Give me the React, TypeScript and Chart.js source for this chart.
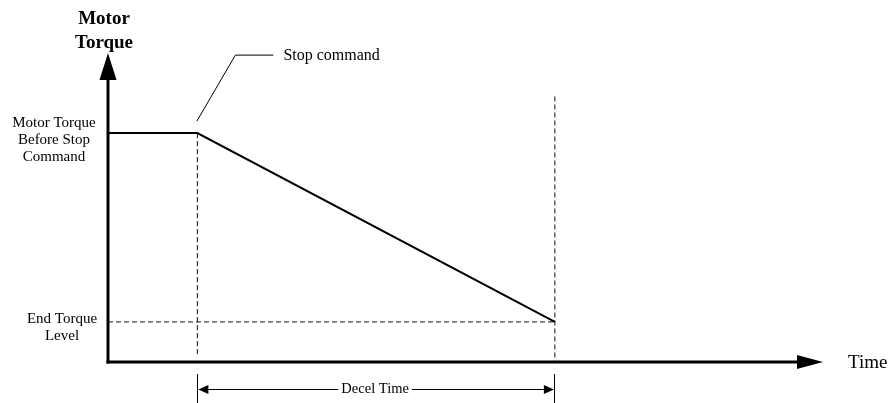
import React, { useEffect, useRef } from "react";
import { Chart, registerables } from "chart.js";

Chart.register(...registerables);

// ---- data ----
const profileTime = [0, 2, 10];
const profileTorque = [100, 100, 17.5];
const stopTime = 2;
const decelEndTime = 10;
const startTorque = 100;
const endTorque = 17.5;
const timeAxisMax = 16;
const torqueAxisMax = 135;
const decelMarkerTop = 116;
const stopMarkerBottom = 3;
const yTitleLines = ["Motor", "Torque"];
const startLabelLines = ["Motor Torque", "Before Stop", "Command"];
const endLabelLines = ["End Torque", "Level"];
const stopLabel = "Stop command";
const decelLabel = "Decel Time";
const xTitle = "Time";

const FONT = '"Liberation Serif", "Times New Roman", serif';
const INK = "#000000";

const diagramPlugin = {
  id: "diagram",
  beforeDatasetsDraw(chart: any) {
    const { ctx, scales } = chart;
    const xs = scales.x;
    const ys = scales.y;
    const x0 = xs.getPixelForValue(0);
    const y0 = ys.getPixelForValue(0);
    const xTip = xs.getPixelForValue(timeAxisMax);
    const yTip = ys.getPixelForValue(torqueAxisMax);
    ctx.save();
    ctx.strokeStyle = INK;
    ctx.fillStyle = INK;
    ctx.lineWidth = 3;
    ctx.lineCap = "butt";
    // y axis
    ctx.beginPath();
    ctx.moveTo(x0, y0 + 1.5);
    ctx.lineTo(x0, yTip + 26);
    ctx.stroke();
    ctx.beginPath();
    ctx.moveTo(x0, yTip);
    ctx.lineTo(x0 - 8.5, yTip + 27);
    ctx.lineTo(x0 + 8.5, yTip + 27);
    ctx.closePath();
    ctx.fill();
    // x axis
    ctx.beginPath();
    ctx.moveTo(x0 - 1.5, y0);
    ctx.lineTo(xTip - 25, y0);
    ctx.stroke();
    ctx.beginPath();
    ctx.moveTo(xTip, y0);
    ctx.lineTo(xTip - 26, y0 - 7);
    ctx.lineTo(xTip - 26, y0 + 7);
    ctx.closePath();
    ctx.fill();
    ctx.restore();
  },
  afterDatasetsDraw(chart: any) {
    const { ctx, scales } = chart;
    const xs = scales.x;
    const ys = scales.y;
    const x0 = xs.getPixelForValue(0);
    const y0 = ys.getPixelForValue(0);
    const xTip = xs.getPixelForValue(timeAxisMax);
    const xStop = xs.getPixelForValue(stopTime);
    const xEnd = xs.getPixelForValue(decelEndTime);
    const yStart = ys.getPixelForValue(startTorque);
    const yEnd = ys.getPixelForValue(endTorque);
    ctx.save();
    ctx.strokeStyle = INK;
    ctx.fillStyle = INK;
    ctx.lineWidth = 1;

    // leader for stop command
    const leaderY = yStart - 78;
    ctx.beginPath();
    ctx.moveTo(xStop - 0.5, yStart - 12);
    ctx.lineTo(xStop + 38, leaderY);
    ctx.lineTo(xStop + 76, leaderY);
    ctx.stroke();

    // decel time dimension
    const dy = Math.round(y0 + 27) + 0.5;
    ctx.beginPath();
    ctx.moveTo(Math.round(xStop) + 0.5, y0 + 12);
    ctx.lineTo(Math.round(xStop) + 0.5, y0 + 42);
    ctx.moveTo(Math.round(xEnd) - 0.5, y0 + 12);
    ctx.lineTo(Math.round(xEnd) - 0.5, y0 + 42);
    ctx.stroke();

    ctx.font = `14.5px ${FONT}`;
    const midX = (xStop + xEnd) / 2 - 1;
    const tw = ctx.measureText(decelLabel).width;
    ctx.beginPath();
    ctx.moveTo(xStop + 8, dy);
    ctx.lineTo(midX - tw / 2 - 3, dy);
    ctx.moveTo(midX + tw / 2 + 3, dy);
    ctx.lineTo(xEnd - 8, dy);
    ctx.stroke();
    ctx.beginPath();
    ctx.moveTo(xStop + 1, dy);
    ctx.lineTo(xStop + 11, dy - 4.5);
    ctx.lineTo(xStop + 11, dy + 4.5);
    ctx.closePath();
    ctx.fill();
    ctx.beginPath();
    ctx.moveTo(xEnd - 1, dy);
    ctx.lineTo(xEnd - 11, dy - 4.5);
    ctx.lineTo(xEnd - 11, dy + 4.5);
    ctx.closePath();
    ctx.fill();

    // texts
    ctx.textBaseline = "middle";
    ctx.textAlign = "center";
    ctx.fillText(decelLabel, midX, dy);

    ctx.textAlign = "left";
    ctx.font = `16px ${FONT}`;
    ctx.fillText(stopLabel, xStop + 86, leaderY + 1);

    ctx.font = `19px ${FONT}`;
    ctx.fillText(xTitle, xTip + 25, y0 + 1);

    ctx.textAlign = "center";
    ctx.font = `15px ${FONT}`;
    startLabelLines.forEach((s, i) => {
      ctx.fillText(s, x0 - 54, yStart - 10 + i * 17);
    });
    endLabelLines.forEach((s, i) => {
      ctx.fillText(s, x0 - 46, yEnd - 3 + i * 17);
    });

    ctx.font = `bold 19px ${FONT}`;
    yTitleLines.forEach((s, i) => {
      ctx.fillText(s, x0 - 4, 19 + i * 24);
    });
    ctx.restore();
  },
};

export default function App() {
  const ref = useRef<HTMLCanvasElement | null>(null);
  useEffect(() => {
    if (!ref.current) return;
    const dashed = {
      borderColor: "#111111",
      borderWidth: 1,
      borderDash: [5, 3],
      pointRadius: 0,
      fill: false,
      clip: false,
    };
    const chart = new Chart(ref.current, {
      type: "line",
      data: {
        datasets: [
          {
            data: profileTime.map((t, i) => ({ x: t, y: profileTorque[i] })),
            borderColor: INK,
            borderWidth: 2,
            pointRadius: 0,
            tension: 0,
            fill: false,
            clip: false,
          } as any,
          {
            ...dashed,
            data: [
              { x: stopTime, y: startTorque },
              { x: stopTime, y: stopMarkerBottom },
            ],
          },
          {
            ...dashed,
            data: [
              { x: decelEndTime, y: decelMarkerTop },
              { x: decelEndTime, y: 0 },
            ],
          },
          {
            ...dashed,
            data: [
              { x: 0, y: endTorque },
              { x: decelEndTime, y: endTorque },
            ],
          },
        ],
      },
      options: {
        animation: false,
        responsive: false,
        devicePixelRatio: 1,
        layout: { padding: { left: 108, right: 72, top: 53, bottom: 41 } },
        plugins: { legend: { display: false }, tooltip: { enabled: false } },
        scales: {
          x: { type: "linear", min: 0, max: timeAxisMax, display: false },
          y: { type: "linear", min: 0, max: torqueAxisMax, display: false },
        },
      },
      plugins: [diagramPlugin],
    });
    return () => chart.destroy();
  }, []);
  return (
    <div style={{ position: "fixed", left: 0, top: 0, width: 895, height: 403, background: "#fff" }}>
      <canvas ref={ref} width={895} height={403} />
    </div>
  );
}
